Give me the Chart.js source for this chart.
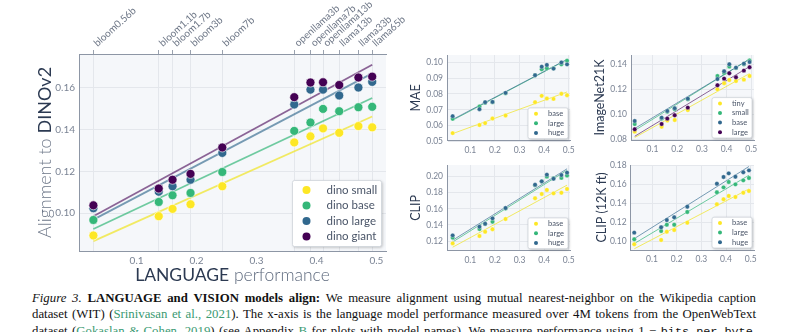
<!DOCTYPE html>
<html>
<head>
<meta charset="utf-8">
<script src="https://cdn.jsdelivr.net/npm/chart.js@4.4.1/dist/chart.umd.min.js"></script>
<style>
  body { margin: 0; width: 800px; height: 332px; overflow: hidden; background: #fff; position: relative; }
  canvas { position: absolute; }
  #caption {
    position: absolute; left: 32px; top: 290px; width: 724px;
    font-family: "Liberation Serif", "Times New Roman", serif;
    font-size: 12.8px; line-height: 16.4px; color: #111;
  }
  #caption .ln { white-space: nowrap; }
  #caption .ln span.fill { display: inline-block; }
  #caption a { color: #3a9a72; text-decoration: none; }
  #caption code { font-family: "Liberation Mono", "DejaVu Sans Mono", monospace; font-size: 11.8px; }
</style>
</head>
<body>
<canvas id="main" width="420" height="290" style="left:0;top:0"></canvas>
<canvas id="mae" width="190" height="118" style="left:400px;top:40px"></canvas>
<canvas id="in21k" width="210" height="118" style="left:590px;top:40px"></canvas>
<canvas id="clip" width="190" height="118" style="left:400px;top:150px"></canvas>
<canvas id="clip12k" width="210" height="118" style="left:590px;top:150px"></canvas>

<div id="caption">
  <div class="ln"><span class="fill"><i>Figure 3.</i> <b>LANGUAGE and VISION models align:</b> We measure alignment using mutual nearest-neighbor on the Wikipedia caption</span></div>
  <div class="ln"><span class="fill">dataset (WIT) (<a>Srinivasan et al., 2021</a>). The x-axis is the language model performance measured over 4M tokens from the OpenWebText</span></div>
  <div class="ln"><span class="fill">dataset (<a>Gokaslan &amp; Cohen, 2019</a>) (see Appendix <a>B</a> for plots with model names). We measure performance using 1 &minus; <code>bits-per-byte</code>,</span></div>
</div>

<script>
// language models along the top axis and their performance (x)
const modelNames = ['bloom0.56b', 'bloom1.1b', 'bloom1.7b', 'bloom3b', 'bloom7b',
  'openllama3b', 'openllama7b', 'openllama13b', 'llama13b', 'llama33b', 'llama65b'];
const langPerf = [0.028, 0.137, 0.160, 0.190, 0.243, 0.363, 0.390, 0.411, 0.438, 0.470, 0.493];
const xTicks = [0.1, 0.2, 0.3, 0.4, 0.5];

// alignment to DINOv2
const dinoSmall = [0.0894, 0.0986, 0.1021, 0.1043, 0.1129, 0.1338, 0.1367, 0.1405, 0.1384, 0.1416, 0.1410];
const dinoBase  = [0.0968, 0.1054, 0.1086, 0.1097, 0.1197, 0.1393, 0.1433, 0.1498, 0.1487, 0.1506, 0.1508];
const dinoLarge = [0.1024, 0.1103, 0.1129, 0.1160, 0.1288, 0.1519, 0.1590, 0.1590, 0.1562, 0.1600, 0.1627];
const dinoGiant = [0.1038, 0.1118, 0.1160, 0.1188, 0.1314, 0.1554, 0.1624, 0.1625, 0.1612, 0.1648, 0.1652];
const dinoYTicks = [0.10, 0.12, 0.14, 0.16];

// MAE
const maeBase  = [0.0553, 0.0604, 0.0616, 0.0645, 0.0664, 0.0748, 0.0788, 0.0771, 0.0769, 0.0801, 0.0792];
const maeLarge = [0.0643, 0.0721, 0.0745, 0.0748, 0.0805, 0.0918, 0.0956, 0.0963, 0.0962, 0.0987, 0.1010];
const maeHuge  = [0.0660, 0.0704, 0.0748, 0.0750, 0.0807, 0.0918, 0.0972, 0.0983, 0.0960, 0.0999, 0.0987];
const maeYTicks = [0.05, 0.06, 0.07, 0.08, 0.09, 0.10];

// ImageNet21K
const inTiny  = [0.0861, 0.0900, 0.0950, 0.0954, 0.1034, 0.1200, 0.1248, 0.1274, 0.1266, 0.1277, 0.1306];
const inSmall = [0.0922, 0.0965, 0.1020, 0.1040, 0.1120, 0.1306, 0.1330, 0.1381, 0.1370, 0.1400, 0.1430];
const inBase  = [0.0946, 0.0973, 0.1026, 0.1048, 0.1125, 0.1282, 0.1344, 0.1400, 0.1373, 0.1405, 0.1418];
const inLarge = [0.0880, 0.0922, 0.0965, 0.0992, 0.1053, 0.1232, 0.1285, 0.1328, 0.1296, 0.1349, 0.1376];
const inYTicks = [0.08, 0.10, 0.12, 0.14];

// CLIP
const clipBase  = [0.1171, 0.1262, 0.1316, 0.1346, 0.1474, 0.1731, 0.1785, 0.1835, 0.1793, 0.1800, 0.1847];
const clipLarge = [0.1242, 0.1350, 0.1412, 0.1440, 0.1603, 0.1892, 0.1940, 0.2000, 0.1980, 0.1985, 0.2013];
const clipHuge  = [0.1271, 0.1378, 0.1415, 0.1482, 0.1610, 0.1900, 0.1942, 0.2025, 0.1975, 0.2020, 0.2050];
const clipYTicks = [0.12, 0.14, 0.16, 0.18, 0.20];

// CLIP (12K ft)
const clip12Base  = [0.0973, 0.1017, 0.1104, 0.1122, 0.1198, 0.1390, 0.1442, 0.1477, 0.1466, 0.1511, 0.1529];
const clip12Large = [0.1025, 0.1111, 0.1177, 0.1177, 0.1310, 0.1515, 0.1567, 0.1623, 0.1598, 0.1640, 0.1664];
const clip12Huge  = [0.1094, 0.1150, 0.1226, 0.1254, 0.1365, 0.1605, 0.1675, 0.1713, 0.1678, 0.1724, 0.1744];
const clip12YTicks = [0.10, 0.12, 0.14, 0.16, 0.18];

const VIR = ['#fde725', '#35b779', '#31688e', '#440154'];
const VIR_LINE = ['rgba(240,230,60,0.8)', 'rgba(53,183,121,0.7)', 'rgba(49,104,142,0.65)', 'rgba(68,1,84,0.6)'];
const FONT = 'Lato, "Open Sans", sans-serif';
const TICK_COLOR = '#7a8394';
const AXIS_COLOR = '#8d96a5';
const GRID_COLOR = '#e4e7ec';

// stretch each caption line to the full column width
document.querySelectorAll('#caption .fill').forEach(span => {
  const spaces = (span.textContent.match(/ /g) || []).length;
  const extra = 724 - span.getBoundingClientRect().width;
  span.style.wordSpacing = (extra / spaces) + 'px';
});

// least-squares trend line over the plotted points
function fitLine(xs, ys) {
  const n = xs.length;
  const mx = xs.reduce((a, b) => a + b, 0) / n;
  const my = ys.reduce((a, b) => a + b, 0) / n;
  let sxy = 0, sxx = 0;
  xs.forEach((x, i) => { sxy += (x - mx) * (ys[i] - my); sxx += (x - mx) * (x - mx); });
  const k = sxy / sxx;
  const x0 = Math.min(...xs), x1 = Math.max(...xs);
  return [{ x: x0, y: my + k * (x0 - mx) }, { x: x1, y: my + k * (x1 - mx) }];
}

function buildDatasets(series, radius, lineWidth) {
  const top = series.slice().reverse();
  const pts = top.map(s => ({
    label: s.label,
    data: langPerf.map((x, i) => ({ x, y: s.values[i] })),
    backgroundColor: s.color,
    borderColor: 'rgba(255,255,255,0.8)',
    borderWidth: radius > 3 ? 0.8 : 0.4,
    pointRadius: radius,
    pointHoverRadius: radius
  }));
  const lines = top.map(s => ({
    data: fitLine(langPerf, s.values),
    showLine: true,
    borderColor: s.line,
    borderWidth: lineWidth,
    pointRadius: 0,
    fill: false
  }));
  return pts.concat(lines);
}

const plotBg = {
  id: 'plotBg',
  beforeDraw(chart) {
    const { ctx, chartArea: a } = chart;
    ctx.save();
    ctx.fillStyle = '#f5f7fa';
    ctx.fillRect(a.left, a.top, a.right - a.left, a.bottom - a.top);
    ctx.restore();
  }
};

// boxed legend sitting in the lower right of the plot area
const cornerLegend = {
  id: 'cornerLegend',
  afterDraw(chart, args, o) {
    const { ctx, chartArea: a } = chart;
    const x = a.right - o.inset - o.w, y = a.bottom - o.inset - o.h;
    ctx.save();
    ctx.shadowColor = 'rgba(0,0,0,0.25)';
    ctx.shadowBlur = 3;
    ctx.shadowOffsetX = 1;
    ctx.shadowOffsetY = 1;
    ctx.fillStyle = '#fff';
    ctx.beginPath();
    ctx.roundRect(x, y, o.w, o.h, 2);
    ctx.fill();
    ctx.shadowColor = 'transparent';
    ctx.strokeStyle = '#cfd4db';
    ctx.lineWidth = 0.8;
    ctx.stroke();
    ctx.font = o.fontSize + 'px ' + FONT;
    ctx.textBaseline = 'middle';
    o.items.forEach((it, i) => {
      const cy = y + o.padTop + i * o.rowH;
      ctx.fillStyle = it.color;
      ctx.beginPath();
      ctx.arc(x + o.markerX, cy, o.r, 0, Math.PI * 2);
      ctx.fill();
      ctx.fillStyle = '#4a5568';
      ctx.fillText(it.label, x + o.textX, cy);
    });
    ctx.restore();
  }
};

// axis titles with two tones of text, plus slanted model names on the top axis
const axisTitles = {
  id: 'axisTitles',
  afterDraw(chart, args, o) {
    const { ctx, chartArea: a } = chart;
    ctx.save();
    ctx.textBaseline = 'middle';
    ctx.textAlign = 'left';
    const drawParts = (parts, cx, cy, rot) => {
      let total = 0;
      parts.forEach(p => { ctx.font = p.font; p.w = ctx.measureText(p.text).width; total += p.w; });
      ctx.save();
      ctx.translate(cx, cy);
      ctx.rotate(rot);
      let px = -total / 2;
      parts.forEach(p => { ctx.font = p.font; ctx.fillStyle = p.color; ctx.fillText(p.text, px, 0); px += p.w; });
      ctx.restore();
    };
    if (o.y) drawParts(o.y.parts, o.y.x, (a.top + a.bottom) / 2, -Math.PI / 2);
    if (o.x) drawParts(o.x.parts, (a.left + a.right) / 2, o.x.y, 0);
    if (o.top) {
      const scale = chart.scales[o.top.axis];
      ctx.font = o.top.font;
      ctx.fillStyle = o.top.color;
      ctx.textBaseline = 'alphabetic';
      o.top.values.forEach((v, i) => {
        ctx.save();
        ctx.translate(scale.getPixelForValue(v) + o.top.dx, a.top - o.top.dy);
        ctx.rotate(-o.top.angle * Math.PI / 180);
        ctx.fillText(o.top.labels[i], 0, 0);
        ctx.restore();
      });
    }
    ctx.restore();
  }
};

function fixedTicks(values) {
  return axis => { axis.ticks = values.map(v => ({ value: v })); };
}

// main DINOv2 panel
new Chart(document.getElementById('main'), {
  type: 'scatter',
  data: {
    datasets: buildDatasets([
      { label: 'dino small', values: dinoSmall, color: VIR[0], line: VIR_LINE[0] },
      { label: 'dino base', values: dinoBase, color: VIR[1], line: VIR_LINE[1] },
      { label: 'dino large', values: dinoLarge, color: VIR[2], line: VIR_LINE[2] },
      { label: 'dino giant', values: dinoGiant, color: VIR[3], line: VIR_LINE[3] }
    ], 4.5, 1.8)
  },
  options: {
    responsive: false,
    animation: false,
    layout: { padding: { right: 34 } },
    plugins: {
      legend: { display: false },
      tooltip: { enabled: false },
      cornerLegend: {
        inset: 4.5, w: 89, h: 66, padTop: 9.5, rowH: 15.5, markerX: 14, textX: 34, r: 4, fontSize: 11.5,
        items: [
          { label: 'dino small', color: VIR[0] },
          { label: 'dino base', color: VIR[1] },
          { label: 'dino large', color: VIR[2] },
          { label: 'dino giant', color: VIR[3] }
        ]
      },
      axisTitles: {
        y: { x: 45, parts: [
          { text: 'Alignment to ', font: '300 18px ' + FONT, color: '#6b7587' },
          { text: 'DINOv2', font: '400 18px ' + FONT, color: '#2c3a52' }
        ] },
        x: { y: 275, parts: [
          { text: 'LANGUAGE', font: '400 17.5px ' + FONT, color: '#2c3a52' },
          { text: ' performance', font: '300 17.5px ' + FONT, color: '#5e6a7e' }
        ] },
        top: { axis: 'xTop', values: langPerf, labels: modelNames, dx: 4, dy: 7, angle: 42,
               font: '400 10px ' + FONT, color: '#6e7787' }
      }
    },
    scales: {
      x: {
        type: 'linear', position: 'bottom', min: 0.004, max: 0.516,
        afterBuildTicks: fixedTicks(xTicks),
        afterFit: s => { s.height = 39; },
        grid: { display: false, drawTicks: false },
        border: { display: true, color: AXIS_COLOR, width: 1 },
        ticks: { font: { family: FONT, size: 10 }, color: TICK_COLOR, padding: 4, callback: v => v.toFixed(1) }
      },
      xTop: {
        type: 'linear', position: 'top', min: 0.004, max: 0.516,
        afterBuildTicks: fixedTicks(langPerf),
        afterFit: s => { s.height = 54; },
        grid: { display: true, color: GRID_COLOR, tickLength: 4, tickColor: '#9aa2af' },
        border: { display: true, color: AXIS_COLOR, width: 1 },
        ticks: { display: false }
      },
      y: {
        min: 0.082, max: 0.176,
        afterBuildTicks: fixedTicks(dinoYTicks),
        afterFit: s => { s.width = 79; },
        grid: { color: GRID_COLOR, drawTicks: false },
        border: { display: true, color: AXIS_COLOR, width: 1 },
        ticks: { font: { family: FONT, size: 10 }, color: TICK_COLOR, padding: 4, callback: v => v.toFixed(2) }
      }
    }
  },
  plugins: [plotBg, cornerLegend, axisTitles]
});

// the four smaller panels share one layout
function smallPanel(id, cfg) {
  const legendItems = cfg.series.map(s => ({ label: s.label, color: s.color }));
  new Chart(document.getElementById(id), {
    type: 'scatter',
    data: { datasets: buildDatasets(cfg.series, 2.2, 1) },
    options: {
      responsive: false,
      animation: false,
      layout: { padding: { top: 15, right: cfg.right } },
      plugins: {
        legend: { display: false },
        tooltip: { enabled: false },
        cornerLegend: {
          inset: 2, w: 40, h: cfg.series.length * 9.6 + 2, padTop: 5.8, rowH: 9.6,
          markerX: 8, textX: 20, r: 2, fontSize: 7.5, items: legendItems
        },
        axisTitles: {
          y: { x: cfg.titleX, parts: [{ text: cfg.title, font: '400 12.5px ' + FONT, color: '#2c3a52' }] }
        }
      },
      scales: {
        x: {
          type: 'linear', min: cfg.xMin, max: cfg.xMax,
          afterBuildTicks: fixedTicks(xTicks),
          afterFit: s => { s.height = cfg.bottom; },
          grid: { color: GRID_COLOR, drawTicks: false },
          border: { display: true, color: AXIS_COLOR, width: 1 },
          ticks: { font: { family: FONT, size: 8.5 }, color: TICK_COLOR, padding: 4, callback: v => v.toFixed(1) }
        },
        y: {
          min: cfg.yMin, max: cfg.yMax,
          afterBuildTicks: fixedTicks(cfg.yTicks),
          afterFit: s => { s.width = cfg.left; },
          grid: { color: GRID_COLOR, drawTicks: false },
          border: { display: true, color: AXIS_COLOR, width: 1 },
          ticks: { font: { family: FONT, size: 8.5 }, color: TICK_COLOR, padding: 4, callback: v => v.toFixed(2) }
        }
      }
    },
    plugins: [plotBg, cornerLegend, axisTitles]
  });
}

smallPanel('mae', {
  title: 'MAE', titleX: 16, left: 47, right: 20, bottom: 17.3,
  xMin: 0.005, xMax: 0.505, yMin: 0.0505, yMax: 0.1046, yTicks: maeYTicks,
  series: [
    { label: 'base', values: maeBase, color: VIR[0], line: VIR_LINE[0] },
    { label: 'large', values: maeLarge, color: VIR[1], line: VIR_LINE[1] },
    { label: 'huge', values: maeHuge, color: VIR[2], line: VIR_LINE[2] }
  ]
});

smallPanel('in21k', {
  title: 'ImageNet21K', titleX: 10, left: 41, right: 46, bottom: 18,
  xMin: 0.013, xMax: 0.511, yMin: 0.0794, yMax: 0.1474, yTicks: inYTicks,
  series: [
    { label: 'tiny', values: inTiny, color: VIR[0], line: VIR_LINE[0] },
    { label: 'small', values: inSmall, color: VIR[1], line: VIR_LINE[1] },
    { label: 'base', values: inBase, color: VIR[2], line: VIR_LINE[2] },
    { label: 'large', values: inLarge, color: VIR[3], line: VIR_LINE[3] }
  ]
});

smallPanel('clip', {
  title: 'CLIP', titleX: 16, left: 47, right: 20, bottom: 17.3,
  xMin: 0.005, xMax: 0.505, yMin: 0.108, yMax: 0.2145, yTicks: clipYTicks,
  series: [
    { label: 'base', values: clipBase, color: VIR[0], line: VIR_LINE[0] },
    { label: 'large', values: clipLarge, color: VIR[1], line: VIR_LINE[1] },
    { label: 'huge', values: clipHuge, color: VIR[2], line: VIR_LINE[2] }
  ]
});

smallPanel('clip12k', {
  title: 'CLIP (12K ft)', titleX: 11.5, left: 40.7, right: 46, bottom: 18,
  xMin: 0.0136, xMax: 0.5134, yMin: 0.0913, yMax: 0.18, yTicks: clip12YTicks,
  series: [
    { label: 'base', values: clip12Base, color: VIR[0], line: VIR_LINE[0] },
    { label: 'large', values: clip12Large, color: VIR[1], line: VIR_LINE[1] },
    { label: 'huge', values: clip12Huge, color: VIR[2], line: VIR_LINE[2] }
  ]
});
</script>
</body>
</html>
